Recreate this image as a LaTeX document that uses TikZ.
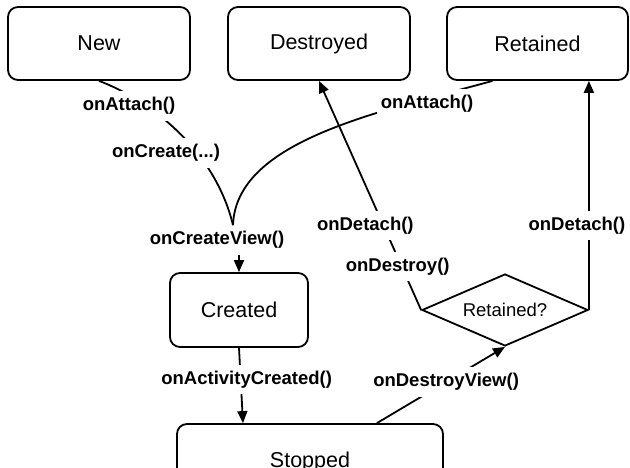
\documentclass[tikz,border=0pt]{standalone}
\usepackage{fontspec}
\setmainfont{Liberation Sans}
\usetikzlibrary{arrows.meta,calc,shapes.geometric}

\begin{document}
\begin{tikzpicture}[x=1pt,y=-1pt,
  state/.style={draw,line width=1.8pt,rounded corners=10pt,minimum height=73pt,
    font=\fontsize{21.5}{24}\selectfont},
  decision/.style={draw,line width=1.8pt,diamond,aspect=2.3,inner sep=1pt,
    font=\fontsize{18.5}{21}\selectfont},
  lbl/.style={fill=white,inner xsep=4pt,inner ysep=6pt,
    font=\fontsize{18.5}{21}\selectfont\bfseries},
  conn/.style={line width=1.8pt},
  arr/.style={conn,-{Triangle[length=12pt,width=10pt]}}]
  \path[use as bounding box,clip] (0,0) rectangle (630,468);

  % states
  \node[state,minimum width=182pt] (new) at (99,43.5) {New};
  \node[state,minimum width=182pt] (destroyed) at (319,43.5) {Destroyed};
  \node[state,minimum width=181pt] (retained) at (537.5,43.5) {Retained};
  \node[state,minimum width=138pt,minimum height=74pt] (created) at (239,310) {Created};
  \node[state,minimum width=266pt,minimum height=76pt] (stopped) at (310,462) {Stopped};
  \node[decision,minimum width=166pt,minimum height=72pt] (isretained) at (505,310) {Retained?};

  % attach / create
  \node[lbl] (cview) at (217,240) {onCreateView()};
  \draw[conn] (new.south) .. controls (150,100) and (215,150) .. ([xshift=16pt]cview.north);
  \draw[conn] ([xshift=-45pt]retained.south) .. controls (380,112) and (236,140) .. ([xshift=16pt]cview.north);
  \node[lbl] (attachnew) at (129,106) {onAttach()};
  \node[lbl] (create) at (166,153) {onCreate(...)};
  \node[lbl] (attachret) at (427,104) {onAttach()};
  \draw[arr] (cview.south -| created.north) -- (created.north);

  \draw[arr] (created.south) -- ([xshift=4pt]created.south |- stopped.north)
    node[lbl,pos=0.42,xshift=6pt] (actcreated) {onActivityCreated()};

  % destroy
  \draw[arr] ($(stopped.north west)!.75!(stopped.north east)$) -- (isretained.south)
    node[lbl,pos=0.54] (dview) {onDestroyView()};
  \draw[arr] (isretained.west) -- (destroyed.south)
    node[lbl,pos=0.19,xshift=-4pt] (destroy) {onDestroy()}
    node[lbl,pos=0.37,xshift=-18pt] (detachd) {onDetach()};
  \draw[arr] (isretained.east) -- (isretained.east |- retained.south)
    node[lbl,pos=0.37,xshift=-12pt] (detachr) {onDetach()};
\end{tikzpicture}
\end{document}
